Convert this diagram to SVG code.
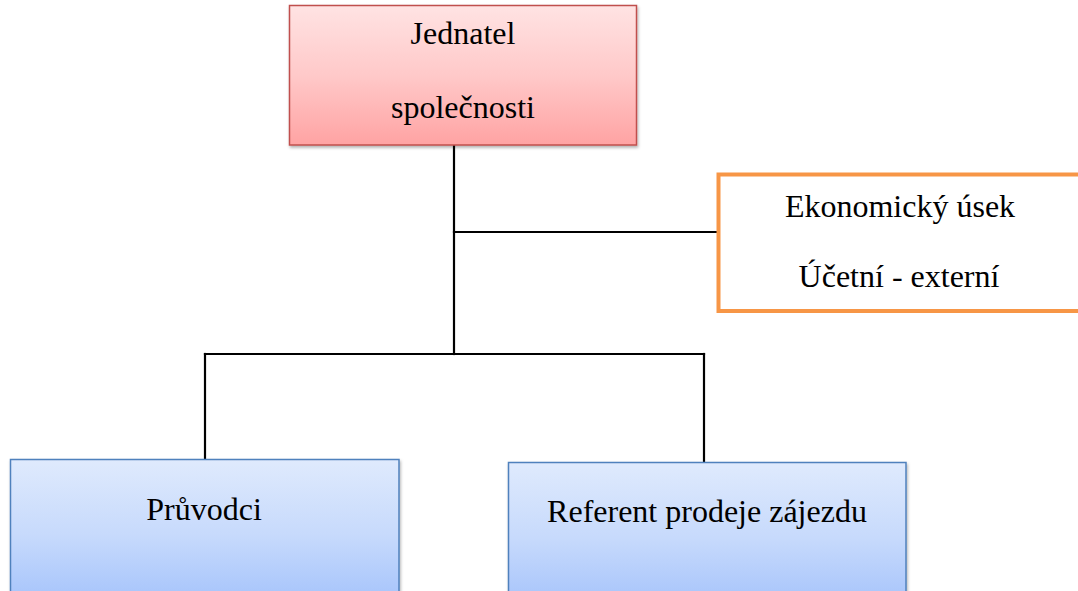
<svg xmlns="http://www.w3.org/2000/svg" width="1078" height="591" viewBox="0 0 1078 591">
<style>
  .t { font-family: "Liberation Serif", "Times New Roman", serif; font-size: 32px; fill: #000; text-anchor: middle; }
  .conn { stroke: #000; stroke-width: 2.2; fill: none; stroke-linecap: square; }
</style>
<defs>
  <linearGradient id="gRed" x1="0" y1="0" x2="0" y2="1">
    <stop offset="0" stop-color="#ffe3e3"/>
    <stop offset="0.5" stop-color="#ffc9c9"/>
    <stop offset="1" stop-color="#ffa3a3"/>
  </linearGradient>
  <linearGradient id="gBlue" x1="0" y1="0" x2="0" y2="1">
    <stop offset="0" stop-color="#dfeafd"/>
    <stop offset="0.5" stop-color="#c7dafc"/>
    <stop offset="1" stop-color="#a2c1fb"/>
  </linearGradient>
  <filter id="sh" x="-5%" y="-5%" width="115%" height="120%">
    <feDropShadow dx="1" dy="2" stdDeviation="1.5" flood-color="#000" flood-opacity="0.3"/>
  </filter>
</defs>
<g id="connectors">
  <path class="conn" d="M454,145 V354"/>
  <path class="conn" d="M454,232 H717"/>
  <path class="conn" d="M205,354 H704"/>
  <path class="conn" d="M205,354 V459"/>
  <path class="conn" d="M704,354 V462"/>
</g>
<g id="node-jednatel">
  <rect x="289.5" y="5.5" width="347" height="139.5" fill="url(#gRed)" stroke="#c0504d" stroke-width="1.5" filter="url(#sh)"/>
  <text class="t" x="463" y="44">Jednatel</text>
  <text class="t" x="463" y="118">společnosti</text>
</g>
<g id="node-ekonomicky">
  <rect x="718.5" y="174.5" width="370" height="136.5" fill="#fff" stroke="#f79646" stroke-width="4"/>
  <text class="t" x="900" y="217">Ekonomický úsek</text>
  <text class="t" x="899" y="287">Účetní - externí</text>
</g>
<g id="node-pruvodci">
  <rect x="10.5" y="459.5" width="388.5" height="150" fill="url(#gBlue)" stroke="#4f81bd" stroke-width="1.5" filter="url(#sh)"/>
  <text class="t" x="204" y="520">Průvodci</text>
</g>
<g id="node-referent">
  <rect x="508.5" y="462.5" width="397.5" height="150" fill="url(#gBlue)" stroke="#4f81bd" stroke-width="1.5" filter="url(#sh)"/>
  <text class="t" x="707" y="522">Referent prodeje zájezdu</text>
</g>
</svg>
